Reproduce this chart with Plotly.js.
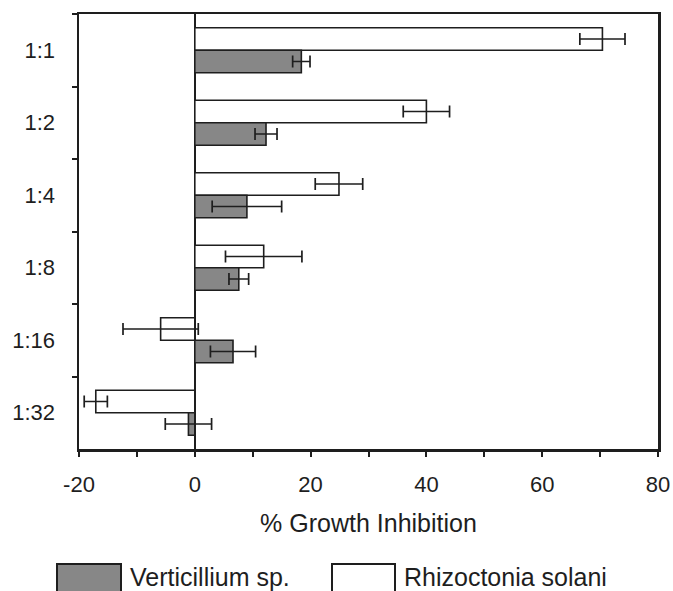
<!DOCTYPE html>
<html>
<head>
<meta charset="utf-8">
<script src="https://cdn.plot.ly/plotly-3.0.1.min.js"></script>
<style>
  html, body { margin: 0; padding: 0; background: #ffffff; }
  #chart { width: 673px; height: 591px; }
</style>
</head>
<body>
<div id="chart"></div>
<script>
// ---- data ----
const categories = ['1:1', '1:2', '1:4', '1:8', '1:16', '1:32'];
const rhizoctoniaValues = [70.4, 40.0, 24.9, 11.9, -5.9, -17.1];
const rhizoctoniaErrors = [3.9, 4.0, 4.1, 6.6, 6.5, 2.0];
const verticilliumValues = [18.4, 12.3, 9.0, 7.6, 6.6, -1.1];
const verticilliumErrors = [1.5, 1.9, 6.0, 1.7, 3.9, 4.0];
const xTickValues = [-20, -10, 0, 10, 20, 30, 40, 50, 60, 70, 80];
const xTickLabels = ['-20', '', '0', '', '20', '', '40', '', '60', '', '80'];
const seriesNames = ['Verticillium sp.', 'Rhizoctonia solani'];

// ---- styling ----
const FONT = 'Liberation Sans, Arial, Helvetica, sans-serif';
const INK = '#1e1e1e';
const GRAY = '#878787';
const boundaryTicks = categories.slice(1).map((_, i) => i + 0.5);

const errStyle = (arr) => ({
  type: 'data', array: arr, visible: true,
  color: INK, thickness: 1.7, width: 6
});

const traces = [
  {
    type: 'bar', orientation: 'h', name: seriesNames[1],
    y: categories, x: rhizoctoniaValues,
    marker: { color: '#ffffff', line: { color: INK, width: 1.6 } },
    error_x: errStyle(rhizoctoniaErrors),
    hoverinfo: 'x+y+name'
  },
  {
    type: 'bar', orientation: 'h', name: seriesNames[0],
    y: categories, x: verticilliumValues,
    marker: { color: GRAY, line: { color: INK, width: 1.6 } },
    error_x: errStyle(verticilliumErrors),
    hoverinfo: 'x+y+name'
  }
];

// custom legend (large swatches, as in the reference)
const px2x = (px) => (px - 79) / 579;
const px2y = (py) => (449 - py) / 435;

const layout = {
  width: 673, height: 591,
  margin: { l: 79, r: 15, t: 14, b: 142, pad: 0 },
  paper_bgcolor: '#ffffff', plot_bgcolor: '#ffffff',
  font: { family: FONT, color: INK, size: 22 },
  showlegend: false,
  barmode: 'group', bargap: 0.38, bargroupgap: 0,
  xaxis: {
    range: [-20, 80], tickmode: 'array',
    tickvals: xTickValues, ticktext: xTickLabels,
    ticks: 'outside', ticklen: 5, tickwidth: 2, tickcolor: INK,
    ticklabelstandoff: 9,
    tickfont: { family: FONT, size: 22, color: INK },
    showline: true, linecolor: INK, linewidth: 2.5, mirror: true,
    showgrid: false,
    zeroline: true, zerolinecolor: INK, zerolinewidth: 2.5,
    title: { text: '% Growth Inhibition', font: { family: FONT, size: 25, color: INK }, standoff: 19 }
  },
  yaxis: {
    type: 'category', range: [5.5, -0.5],
    tickson: 'boundaries',
    ticks: 'outside', ticklen: 5, tickwidth: 2, tickcolor: INK,
    ticklabelstandoff: 17,
    tickfont: { family: FONT, size: 22, color: INK },
    showline: true, linecolor: INK, linewidth: 2.5, mirror: true,
    showgrid: false, zeroline: false
  },
  xaxis2: {
    overlaying: 'x', anchor: 'y', side: 'bottom',
    range: [-20, 80], tickmode: 'array', tickvals: xTickValues,
    ticks: 'inside', ticklen: 5, tickwidth: 2, tickcolor: INK,
    showticklabels: false, showline: false, showgrid: false, zeroline: false
  },
  yaxis2: {
    overlaying: 'y', anchor: 'x', side: 'left',
    range: [5.5, -0.5], tickmode: 'array', tickvals: boundaryTicks,
    ticks: 'inside', ticklen: 5, tickwidth: 2, tickcolor: INK,
    showticklabels: false, showline: false, showgrid: false, zeroline: false
  },
  shapes: [
    { type: 'rect', xref: 'paper', yref: 'paper',
      x0: px2x(57), x1: px2x(121), y0: px2y(600), y1: px2y(564),
      fillcolor: GRAY, line: { color: INK, width: 2 } },
    { type: 'rect', xref: 'paper', yref: 'paper',
      x0: px2x(332), x1: px2x(395), y0: px2y(600), y1: px2y(564),
      fillcolor: '#ffffff', line: { color: INK, width: 2 } }
  ],
  annotations: [
    { xref: 'paper', yref: 'paper', x: px2x(128), y: px2y(577),
      xanchor: 'left', yanchor: 'middle', showarrow: false,
      text: seriesNames[0], font: { family: FONT, size: 25, color: INK } },
    { xref: 'paper', yref: 'paper', x: px2x(402), y: px2y(577),
      xanchor: 'left', yanchor: 'middle', showarrow: false,
      text: seriesNames[1], font: { family: FONT, size: 25, color: INK } }
  ]
};

Plotly.newPlot('chart', traces, layout, { displayModeBar: false, staticPlot: true });
</script>
</body>
</html>
